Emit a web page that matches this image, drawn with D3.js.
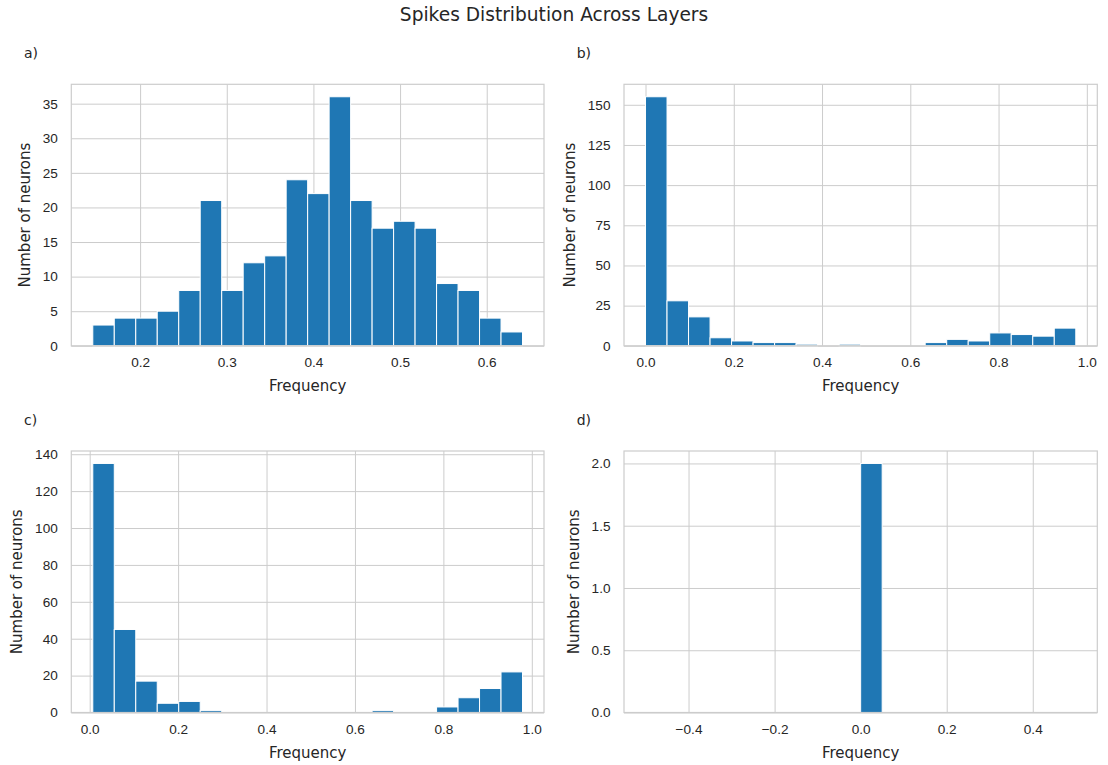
<!DOCTYPE html>
<html>
<head>
<meta charset="utf-8">
<script src="https://cdn.jsdelivr.net/npm/d3@7"></script>
<style>
  body { margin: 0; background: #fff; }
  svg { display: block; font-family: "DejaVu Sans", sans-serif; }
  .tick text { fill: #262626; font-size: 13.6px; }
  .tick line { stroke: #cccccc; stroke-width: 1; }
</style>
</head>
<body>
<div id="chart"></div>
<script>
// DATA (histogram counts, 20 bins each)
const countsA = [3, 4, 4, 5, 8, 21, 8, 12, 13, 24, 22, 36, 21, 17, 18, 17, 9, 8, 4, 2];
const countsB = [155, 28, 18, 5, 3, 2, 2, 1, 0, 1, 0, 0, 0, 2, 4, 3, 8, 7, 6, 11];
const countsC = [135, 45, 17, 5, 6, 1, 0, 0, 0, 0, 0, 0, 0, 1, 0, 0, 3, 8, 13, 22];
const countsD = [0, 0, 0, 0, 0, 0, 0, 0, 0, 0, 2, 0, 0, 0, 0, 0, 0, 0, 0, 0];

// bin range [min, max] of each histogram
const rangeA = [0.1454, 0.6413];
const rangeB = [0.0, 0.975];
const rangeC = [0.007, 0.979];
const rangeD = [-0.5, 0.5];

// tick values
const xTicksA = [0.2, 0.3, 0.4, 0.5, 0.6];
const xTicksB = [0.0, 0.2, 0.4, 0.6, 0.8, 1.0];
const xTicksC = [0.0, 0.2, 0.4, 0.6, 0.8, 1.0];
const xTicksD = [-0.4, -0.2, 0.0, 0.2, 0.4];
const yTicksA = [0, 5, 10, 15, 20, 25, 30, 35];
const yTicksB = [0, 25, 50, 75, 100, 125, 150];
const yTicksC = [0, 20, 40, 60, 80, 100, 120, 140];
const yTicksD = [0, 0.5, 1.0, 1.5, 2.0];

const panelLabels = ["a)", "b)", "c)", "d)"];
const title = "Spikes Distribution Across Layers";
const xLabel = "Frequency";
const yLabel = "Number of neurons";

// LAYOUT
const W = 1108, H = 765;
const colX = [71.3, 624];
const colW = [472.7, 473.3];
const rowY = [84.3, 451];
const plotH = 261.5;
const BAR = "#1f77b4";
const TXT = "#262626";

const svg = d3.select("#chart").append("svg")
    .attr("width", W)
    .attr("height", H);

svg.append("text")
    .attr("x", W / 2)
    .attr("y", 21)
    .attr("text-anchor", "middle")
    .style("font-size", "18.6px")
    .style("fill", TXT)
    .text(title);

const panels = [
    { counts: countsA, range: rangeA, xt: xTicksA, yt: yTicksA, yfmt: d3.format("d") },
    { counts: countsB, range: rangeB, xt: xTicksB, yt: yTicksB, yfmt: d3.format("d") },
    { counts: countsC, range: rangeC, xt: xTicksC, yt: yTicksC, yfmt: d3.format("d") },
    { counts: countsD, range: rangeD, xt: xTicksD, yt: yTicksD, yfmt: d3.format(".1f") }
];

// matplotlib uses a real minus sign
const xfmt = d => d3.format(".1f")(d).replace("-", "\u2212");

panels.forEach((p, k) => {
    const left = colX[k % 2], top = rowY[Math.floor(k / 2)];
    const w = colW[k % 2], h = plotH;
    const g = svg.append("g").attr("transform", `translate(${left},${top})`);

    const span = p.range[1] - p.range[0];
    const binW = span / p.counts.length;
    const x = d3.scaleLinear()
        .domain([p.range[0] - 0.05 * span, p.range[1] + 0.05 * span])
        .range([0, w]);
    const y = d3.scaleLinear()
        .domain([0, d3.max(p.counts) * 1.05])
        .range([h, 0]);

    // grid + tick labels
    const yAxis = g.append("g")
        .call(d3.axisLeft(y).tickValues(p.yt).tickFormat(p.yfmt)
            .tickSize(-w).tickPadding(13.5));
    yAxis.select(".domain").remove();

    const xAxis = g.append("g")
        .attr("transform", `translate(0,${h})`)
        .call(d3.axisBottom(x).tickValues(p.xt).tickFormat(xfmt)
            .tickSize(-h).tickPadding(12));
    xAxis.select(".domain").remove();

    // bars
    g.append("g").selectAll("rect")
        .data(p.counts.map((c, i) => ({ c, x0: p.range[0] + i * binW, x1: p.range[0] + (i + 1) * binW })))
        .join("rect")
        .filter(d => d.c > 0)
        .attr("x", d => x(d.x0))
        .attr("width", d => x(d.x1) - x(d.x0))
        .attr("y", d => y(d.c))
        .attr("height", d => y(0) - y(d.c))
        .attr("fill", BAR)
        .attr("stroke", "#ffffff")
        .attr("stroke-width", 1);

    // frame
    g.append("rect")
        .attr("width", w)
        .attr("height", h)
        .attr("fill", "none")
        .attr("stroke", "#cccccc")
        .attr("stroke-width", 1.2);

    // x label
    g.append("text")
        .attr("x", w / 2)
        .attr("y", h + 45)
        .attr("text-anchor", "middle")
        .style("font-size", "15px")
        .style("fill", TXT)
        .text(xLabel);

    // y label, placed left of the widest tick label
    const minX = d3.min(yAxis.selectAll("text").nodes(), n => -13.5 - n.getComputedTextLength());
    g.append("text")
        .attr("transform", `translate(${minX - 13},${h / 2}) rotate(-90)`)
        .attr("text-anchor", "middle")
        .style("font-size", "15px")
        .style("fill", TXT)
        .text(yLabel);

    // panel letter
    g.append("text")
        .attr("x", -0.1 * w)
        .attr("y", -0.1 * h)
        .style("font-size", "14px")
        .style("fill", TXT)
        .text(panelLabels[k]);
});
</script>
</body>
</html>
